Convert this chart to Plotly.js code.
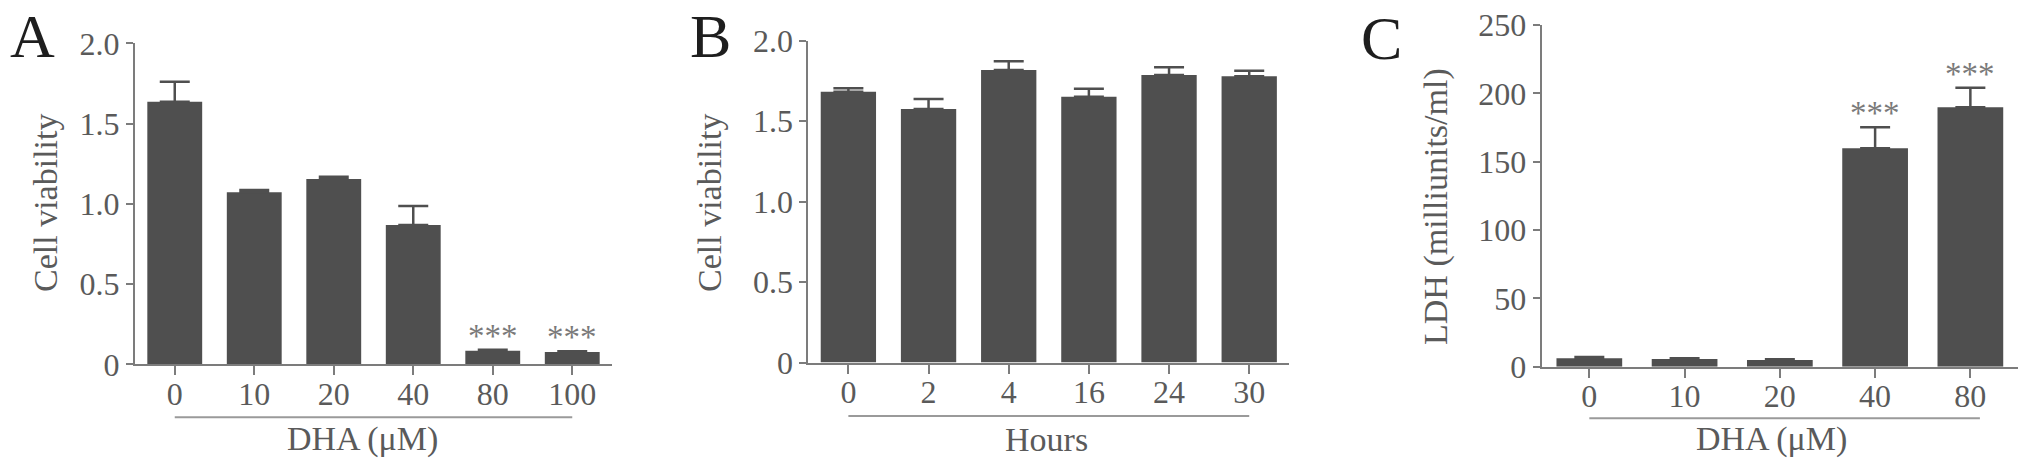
<!DOCTYPE html>
<html>
<head>
<meta charset="utf-8">
<script src="https://cdn.plot.ly/plotly-3.0.1.min.js"></script>
<style>
  html, body {margin: 0; padding: 0; background: white;}
  #fig {width: 2031px; height: 469px;}
</style>
</head>
<body>
<div id="fig"></div>
<script>
// panel A: viability vs DHA dose
var doseA = ['0', '10', '20', '40', '80', '100'];
var viabA = [1.636, 1.072, 1.155, 0.868, 0.085, 0.077];
var errA = [0.125, 0.014, 0.014, 0.118, 0.006, 0.005];
var sigA = ['', '', '', '', '***', '***'];

// panel B: viability vs time
var hoursB = ['0', '2', '4', '16', '24', '30'];
var viabB = [1.683, 1.575, 1.818, 1.652, 1.787, 1.779];
var errB = [0.021, 0.062, 0.054, 0.050, 0.048, 0.034];
var sigB = ['', '', '', '', '', ''];

// panel C: LDH release vs DHA dose
var doseC = ['0', '10', '20', '40', '80'];
var ldhC = [6.1, 5.6, 4.9, 159.8, 189.8];
var errC = [1.0, 0.5, 0.5, 15.4, 14.3];
var sigC = ['', '', '', '***', '***'];

var viabTicks = [0, 0.5, 1, 1.5, 2];
var viabTickText = ['0', '0.5', '1.0', '1.5', '2.0'];
var ldhTicks = [0, 50, 100, 150, 200, 250];

var W = 2031, H = 469;
var serif = '"Liberation Serif", "Times New Roman", serif';
var barColor = '#4f4f4f';
var axisColor = '#7c7c7c';
var textColor = '#5a5a5a';

function px(x) { return x / W; }
function py(y) { return 1 - y / H; }

function bar_trace(cats, vals, errs, n) {
    return {
        type: 'bar',
        x: cats,
        y: vals,
        xaxis: 'x' + n,
        yaxis: 'y' + n,
        marker: {color: barColor},
        error_y: {
            type: 'data',
            symmetric: false,
            array: errs,
            arrayminus: errs.map(function () { return 0; }),
            color: barColor,
            thickness: 2.5,
            width: 15
        },
        hoverinfo: 'x+y'
    };
}

function x_axis(cats, left, right, yname) {
    return {
        domain: [px(left), px(right)],
        anchor: yname,
        type: 'category',
        range: [-0.5, cats.length - 0.5],
        showline: true, linecolor: axisColor, linewidth: 2,
        ticks: 'outside', ticklen: 9, tickwidth: 2, tickcolor: axisColor,
        ticklabelstandoff: -9,
        showgrid: false, zeroline: false,
        tickfont: {family: serif, size: 32, color: textColor}
    };
}

function y_axis(top, bottom, xname, maxv, vals, text) {
    var ax = {
        domain: [py(bottom), py(top)],
        anchor: xname,
        range: [0, maxv],
        showline: true, linecolor: axisColor, linewidth: 2,
        ticks: 'outside', ticklen: 7, tickwidth: 2, tickcolor: axisColor,
        showgrid: false, zeroline: false,
        tickmode: 'array', tickvals: vals,
        tickfont: {family: serif, size: 32, color: textColor}
    };
    if (text) ax.ticktext = text;
    return ax;
}

function underline(cats, n, y, extra) {
    return {
        type: 'line', xref: 'x' + n, yref: 'paper',
        x0: 0, x1: cats.length - 1 + extra, y0: py(y), y1: py(y),
        line: {color: '#9a9a9a', width: 2}
    };
}

function label(text, x, y, size, color, angle) {
    return {
        text: text, xref: 'paper', yref: 'paper',
        x: px(x), y: py(y), xanchor: 'center', yanchor: 'middle',
        showarrow: false, textangle: angle || 0,
        font: {family: serif, size: size, color: color}
    };
}

// significance stars sit just above each error bar (category index as x)
function stars(cats, vals, errs, sig, n) {
    var out = [];
    for (var i = 0; i < cats.length; i++) {
        if (!sig[i]) continue;
        out.push({
            text: sig[i], xref: 'x' + n, yref: 'y' + n,
            x: i, y: vals[i] + errs[i],
            xanchor: 'center', yanchor: 'bottom', yshift: -6,
            showarrow: false,
            font: {family: serif, size: 33, color: '#7a7a7a'}
        });
    }
    return out;
}

var data = [
    bar_trace(doseA, viabA, errA, ''),
    bar_trace(hoursB, viabB, errB, 2),
    bar_trace(doseC, ldhC, errC, 3)
];

var annotations = [
    label('A', 32, 36, 62, '#1e1e1e'),
    label('B', 710, 36, 62, '#1e1e1e'),
    label('C', 1381, 38, 62, '#1e1e1e'),
    label('Cell viability', 46, 203, 34, textColor, -90),
    label('Cell viability', 710, 203, 34, textColor, -90),
    label('LDH (milliunits/ml)', 1436, 207, 34, textColor, -90),
    label('DHA (\u03bcM)', 362, 439, 34, textColor),
    label('Hours', 1046, 439, 34, textColor),
    label('DHA (\u03bcM)', 1771, 439, 34, textColor)
].concat(stars(doseA, viabA, errA, sigA, ''))
 .concat(stars(hoursB, viabB, errB, sigB, 2))
 .concat(stars(doseC, ldhC, errC, sigC, 3));

var layout = {
    width: W, height: H,
    margin: {l: 0, r: 0, t: 0, b: 0},
    paper_bgcolor: 'white', plot_bgcolor: 'white',
    showlegend: false,
    bargap: 0.31,
    xaxis: x_axis(doseA, 135, 612, 'y'),
    yaxis: y_axis(43.3, 364.3, 'x', 2, viabTicks, viabTickText),
    xaxis2: x_axis(hoursB, 808.3, 1289.3, 'y2'),
    yaxis2: y_axis(40.7, 362.5, 'x2', 2, viabTicks, viabTickText),
    xaxis3: x_axis(doseC, 1541.7, 2018, 'y3'),
    yaxis3: y_axis(25, 366.7, 'x3', 250, ldhTicks),
    shapes: [
        underline(doseA, '', 417.3, 0),
        underline(hoursB, 2, 416, 0),
        underline(doseC, 3, 418.3, 0.1)
    ],
    annotations: annotations
};

Plotly.newPlot('fig', data, layout, {displayModeBar: false, staticPlot: true});
</script>
</body>
</html>
